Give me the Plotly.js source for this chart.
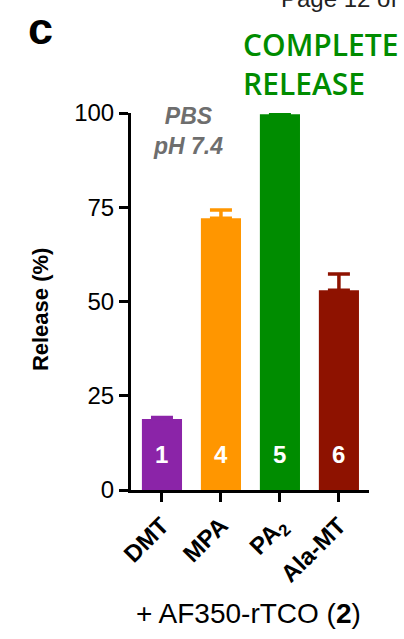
<!DOCTYPE html>
<html><head><meta charset="utf-8">
<script src="https://cdn.plot.ly/plotly-3.0.1.min.js"></script>
<style>html,body{margin:0;padding:0;background:#fff;}#c{width:404px;height:639px;}</style>
</head><body><div id="c"></div>
<script>
const categories = ['DMT', 'MPA', 'PA<sub>2</sub>', 'Ala-MT'];
const releaseValues = [18.8, 72.1, 99.7, 53.0];
const releaseErrors = [0.4, 2.2, 0.5, 4.3];
const barNumbers = ['1', '4', '5', '6'];
const barColors = ['#8B24A8', '#FF9600', '#008C00', '#8E1200'];
const yTicks = [0, 25, 50, 75, 100];

const F = 'Liberation Sans, Arial, sans-serif';
const traces = categories.map((c, i) => ({
  type: 'bar',
  x: [c], y: [releaseValues[i]],
  width: 0.68,
  marker: {color: barColors[i], line: {width: 0}},
  error_y: {type: 'data', symmetric: false, array: [releaseErrors[i]], arrayminus: [0],
            color: barColors[i], thickness: 3.5, width: 11},
  cliponaxis: false,
  hoverinfo: 'none',
  showlegend: false
}));

const annotations = categories.map((c, i) => ({
  x: c, y: 9.5, xref: 'x', yref: 'y', text: '<b>' + barNumbers[i] + '</b>',
  showarrow: false, font: {family: F, size: 24, color: '#ffffff'}
}));
annotations.push(
  {xref: 'paper', yref: 'paper', x: -0.382, y: 0.48, xanchor: 'center', yanchor: 'middle',
   text: '<b>Release (%)</b>', textangle: -90,
   showarrow: false, font: {family: F, size: 22, color: '#000'}},
  {xref: 'x', yref: 'y', x: 0.44, y: 95.3, text: '<b><i>PBS<br>pH 7.4</i></b>', showarrow: false,
   font: {family: F, size: 23, color: '#6e6e6e'}, align: 'center'},
  {xref: 'paper', yref: 'paper', x: 0.462, y: 1.13, xanchor: 'left', yanchor: 'middle',
   text: 'COMPLETE<br>RELEASE', showarrow: false, align: 'left',
   font: {family: 'Open Sans, sans-serif', size: 30, color: '#008C00', weight: 600}},
  {xref: 'paper', yref: 'paper', x: -0.44, y: 1.225, xanchor: 'left', yanchor: 'middle',
   text: '<b>c</b>', showarrow: false, font: {family: F, size: 45, color: '#000'}},
  {xref: 'paper', yref: 'paper', x: 0.62, y: 1.305, xanchor: 'left', yanchor: 'middle',
   text: 'Page 12 of', showarrow: false, font: {family: F, size: 24, color: '#222'}},
  {xref: 'paper', yref: 'paper', x: 0.495, y: -0.328, xanchor: 'center', yanchor: 'middle',
   text: '+ AF350-rTCO (<b>2</b>)', showarrow: false, font: {family: F, size: 28, color: '#000'}}
);

const layout = {
  width: 404, height: 639,
  margin: {l: 131, r: 35, t: 113, b: 149, pad: 0},
  paper_bgcolor: '#fff', plot_bgcolor: '#fff',
  barmode: 'overlay',
  xaxis: {type: 'category', categoryarray: categories, range: [-0.525, 3.51],
          showline: true, linewidth: 3, linecolor: '#000', ticks: 'outside', ticklen: 9, tickwidth: 3,
          tickcolor: '#000', tickangle: -45, showgrid: false, zeroline: false,
          tickfont: {family: F, size: 24, color: '#000', weight: 'bold'}},
  yaxis: {range: [0, 100], tickvals: yTicks, showline: true, linewidth: 3, linecolor: '#000',
          ticks: 'outside', ticklen: 9, tickwidth: 3, tickcolor: '#000', showgrid: false, zeroline: false,
          tickfont: {family: F, size: 24, color: '#000'}},
  annotations: annotations
};
Plotly.newPlot('c', traces, layout, {staticPlot: true});
</script></body></html>
